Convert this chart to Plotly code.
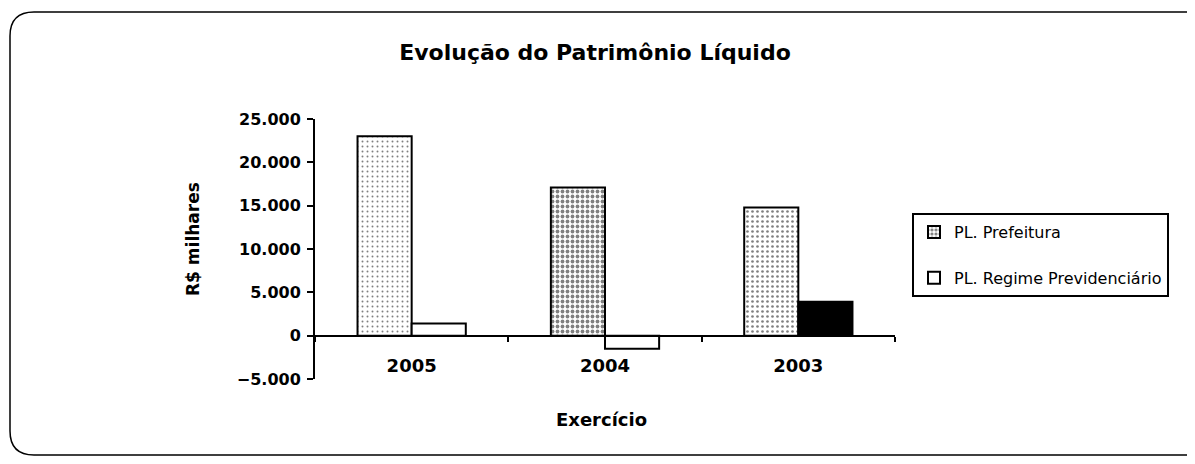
import plotly.graph_objects as go

categories = ["2005", "2004", "2003"]
pl_prefeitura = [23000, 17100, 14800]
pl_regime = [1400, -1500, 3900]
series_names = ["PL. Prefeitura", "PL. Regime Previdenciário"]
y_ticks = [-5000, 0, 5000, 10000, 15000, 20000, 25000]
y_range = [-5000, 25000]

fig = go.Figure()
fig.add_trace(go.Bar(
    x=categories, y=pl_prefeitura, name=series_names[0], legendgroup="a",
    marker=dict(color="white", line=dict(color="black", width=2),
                pattern=dict(shape=".", fgcolor="black", bgcolor="white",
                             size=5, solidity=[0.12, 0.45, 0.22])),
))
fig.add_trace(go.Bar(
    x=categories, y=pl_regime, name=series_names[1], legendgroup="b",
    marker=dict(color=["white", "white", "black"], line=dict(color="black", width=2)),
))

# the page body adds an 8px margin; lay out in screen pixels and subtract it
OFF = 8
W, H = 1195 - OFF, 464 - OFF
L, R, T, B = 315 - OFF, 895 - OFF, 119 - OFF, 379 - OFF
pw, ph = R - L, B - T

def px(x):
    return (x - OFF - L) / pw

def py(y):
    return (B - (y - OFF)) / ph

# rounded outer frame (right edge runs off the picture as in the scan)
x0, x1, y0, y1 = px(10), px(1210), py(455), py(12)
rx, ry = 24 / pw, 24 / ph
path = (f"M {x0+rx},{y1} L {x1-rx},{y1} Q {x1},{y1} {x1},{y1-ry} "
        f"L {x1},{y0+ry} Q {x1},{y0} {x1-rx},{y0} L {x0+rx},{y0} "
        f"Q {x0},{y0} {x0},{y0+ry} L {x0},{y1-ry} Q {x0},{y1} {x0+rx},{y1} Z")

zero_pos = (0 - y_range[0]) / (y_range[1] - y_range[0])

fig.update_layout(
    width=W, height=H,
    margin=dict(l=L, r=W - R, t=T, b=H - B, autoexpand=False),
    paper_bgcolor="white", plot_bgcolor="white",
    separators=",.",
    barmode="group", bargap=0.44, bargroupgap=0.0,
    font=dict(family="DejaVu Sans", color="black"),
    title=dict(text="Evolução do Patrimônio Líquido", x=(595 - OFF) / W, xanchor="center",
               y=1 - (52 - OFF) / H, yanchor="middle",
               font=dict(family="DejaVu Sans", size=22, weight="bold", color="black")),
    xaxis=dict(anchor="free", position=zero_pos,
               showline=True, linecolor="black", linewidth=2,
               showgrid=False, ticks="outside", tickson="boundaries",
               ticklen=5, tickwidth=2, tickcolor="black",
               ticklabelstandoff=14,
               tickfont=dict(family="DejaVu Sans", size=18, weight="bold")),
    yaxis=dict(range=y_range, tickvals=y_ticks, tickformat=",",
               showline=True, linecolor="black", linewidth=2,
               ticks="outside", ticklen=6, tickwidth=2, tickcolor="black",
               ticklabelstandoff=3,
               showgrid=False, zeroline=False,
               tickfont=dict(family="DejaVu Sans", size=16, weight="bold")),
    legend=dict(x=px(912), y=py(213), xanchor="left", yanchor="top",
                bordercolor="black", borderwidth=2, bgcolor="white",
                font=dict(family="DejaVu Sans", size=16),
                traceorder="grouped", tracegroupgap=22,
                itemwidth=30),
    showlegend=True,
    shapes=[dict(type="path", path=path, xref="paper", yref="paper",
                 line=dict(color="black", width=1.5), layer="below")],
    annotations=[
        dict(text="R$ milhares", textangle=-90, x=px(193), y=py(239),
             xref="paper", yref="paper", xanchor="center", yanchor="middle",
             showarrow=False,
             font=dict(family="DejaVu Sans", size=17, weight="bold")),
        dict(text="Exercício", x=px(601), y=py(419),
             xref="paper", yref="paper", xanchor="center", yanchor="middle",
             showarrow=False,
             font=dict(family="DejaVu Sans", size=18, weight="bold")),
    ],
)

fig.write_html("out.html")
